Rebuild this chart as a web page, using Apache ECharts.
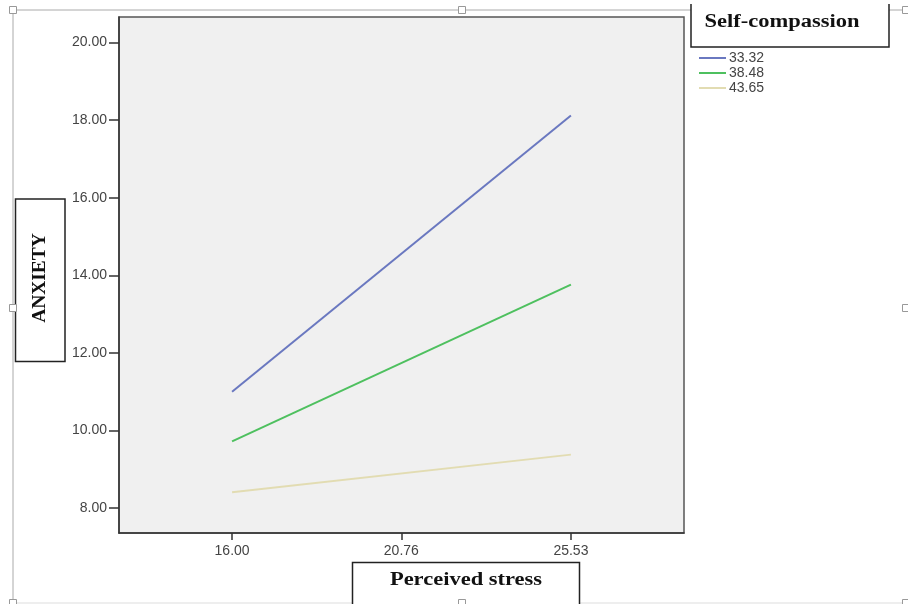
<!DOCTYPE html>
<html>
<head>
<meta charset="utf-8">
<style>
  html, body { margin: 0; padding: 0; background: #fff; }
  #myChart { width: 908px; height: 604px; }
</style>
<script src="https://cdn.jsdelivr.net/npm/echarts@6/dist/echarts.min.js"></script>
</head>
<body>
<div id="myChart"></div>
<script>
// perceived stress ticks (x) and anxiety ticks (y)
const stressTicks = [16.00, 20.76, 25.53]
const anxietyTicks = [8, 10, 12, 14, 16, 18, 20]
const lineX = [16.00, 25.53]

// self-compassion levels
const levels = ['33.32', '38.48', '43.65']
const lowSC = [11.00, 18.12]
const midSC = [9.72, 13.76]
const highSC = [8.41, 9.38]

const colors = ['#6a78c0', '#4ec05f', '#e2dcb2']

const toPts = (ys) => lineX.map((x, i) => [x, ys[i]])

const myChart = echarts.init(document.getElementById('myChart'))

const serif = '"Liberation Serif", "Times New Roman", serif'
const sans = '"Liberation Sans", Arial, sans-serif'
const handle = (x, y) => ({
  type: 'rect',
  shape: { x: x - 3.5, y: y - 3.5, width: 7, height: 7 },
  style: { fill: '#fff', stroke: '#999', lineWidth: 1 },
  z: 10,
})

myChart.setOption({
  animation: false,
  grid: {
    left: 119,
    top: 17,
    right: 224,
    bottom: 71,
    show: true,
    backgroundColor: '#f0f0f0',
    borderColor: '#555',
    borderWidth: 1.5,
  },
  legend: {
    orient: 'vertical',
    left: 693,
    top: 46,
    itemWidth: 27,
    itemHeight: 14,
    itemGap: 1,
    data: levels,
    itemStyle: { opacity: 0 },
    textStyle: { fontFamily: sans, fontSize: 14, color: '#444', padding: [0, 0, 0, -2] },
  },
  xAxis: {
    type: 'value',
    min: 12.82,
    max: 28.71,
    splitLine: { show: false },
    axisLine: { lineStyle: { color: '#333', width: 1.5 } },
    axisTick: { length: 7, customValues: stressTicks, lineStyle: { color: '#333', width: 1.5 } },
    axisLabel: {
      customValues: stressTicks,
      formatter: (v) => v.toFixed(2),
      fontFamily: sans,
      fontSize: 14,
      color: '#444',
      margin: 11,
    },
  },
  yAxis: {
    type: 'value',
    min: 7.36,
    max: 20.66,
    splitLine: { show: false },
    axisLine: { show: true, lineStyle: { color: '#333', width: 1.5 } },
    axisTick: { show: true, length: 10, customValues: anxietyTicks, lineStyle: { color: '#333', width: 1.5 } },
    axisLabel: {
      customValues: anxietyTicks,
      formatter: (v) => v.toFixed(2),
      fontFamily: sans,
      fontSize: 14,
      color: '#444',
      margin: 12,
    },
  },
  series: [
    { name: levels[0], type: 'line', symbol: 'none', data: toPts(lowSC), lineStyle: { color: colors[0], width: 2 }, itemStyle: { color: colors[0] } },
    { name: levels[1], type: 'line', symbol: 'none', data: toPts(midSC), lineStyle: { color: colors[1], width: 2 }, itemStyle: { color: colors[1] } },
    { name: levels[2], type: 'line', symbol: 'none', data: toPts(highSC), lineStyle: { color: colors[2], width: 2 }, itemStyle: { color: colors[2] } },
  ],
  graphic: [
    // document frame
    { type: 'line', shape: { x1: 13, y1: 10, x2: 906, y2: 10 }, style: { stroke: '#aaa', lineWidth: 1 } },
    { type: 'line', shape: { x1: 13, y1: 10, x2: 13, y2: 603 }, style: { stroke: '#aaa', lineWidth: 1 } },
    { type: 'line', shape: { x1: 13, y1: 603, x2: 906, y2: 603 }, style: { stroke: '#ddd', lineWidth: 1 } },
    handle(13, 10), handle(462, 10), handle(906, 10),
    handle(13, 308), handle(906, 308),
    handle(13, 603), handle(462, 603), handle(906, 603),
    // legend title box
    {
      type: 'polyline',
      shape: { points: [[691, 4], [691, 47], [889, 47], [889, 4]] },
      style: { fill: '#fff', stroke: '#222', lineWidth: 1.5 },
      z: 5,
    },
    {
      type: 'text', x: 782, y: 22, scaleX: 1.25, z: 6,
      style: { text: 'Self-compassion', font: 'bold 18px ' + serif, fill: '#111', align: 'center', verticalAlign: 'middle' },
    },
    // y title box
    {
      type: 'rect', shape: { x: 15.5, y: 199, width: 49.5, height: 162.5 },
      style: { fill: '#fff', stroke: '#222', lineWidth: 1.5 }, z: 5,
    },
    {
      type: 'text', x: 40, y: 278, rotation: Math.PI / 2, scaleX: 1.08, z: 6,
      style: { text: 'ANXIETY', font: 'bold 18px ' + serif, fill: '#111', align: 'center', verticalAlign: 'middle' },
    },
    // x title box
    {
      type: 'polyline',
      shape: { points: [[352.5, 610], [352.5, 562.5], [579.5, 562.5], [579.5, 610]] },
      style: { fill: '#fff', stroke: '#222', lineWidth: 1.5 }, z: 5,
    },
    {
      type: 'text', x: 466, y: 580, scaleX: 1.25, z: 6,
      style: { text: 'Perceived stress', font: 'bold 18px ' + serif, fill: '#111', align: 'center', verticalAlign: 'middle' },
    },
  ],
})
</script>
</body>
</html>
